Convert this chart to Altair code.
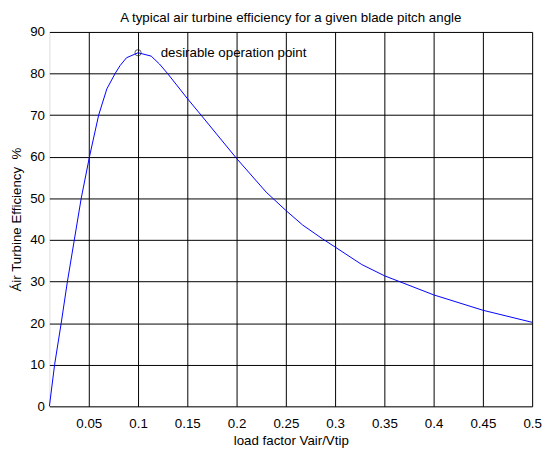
import altair as alt
import pandas as pd

# curve
load_factor = [0.01, 0.0153, 0.022, 0.0283, 0.0353, 0.0423, 0.0507, 0.06, 0.0683,
               0.0767, 0.0817, 0.0883, 0.1, 0.1133, 0.1217, 0.13, 0.15, 0.164,
               0.2, 0.23, 0.25, 0.267, 0.287, 0.3, 0.327, 0.35, 0.4, 0.45, 0.5]
efficiency = [0, 10, 20, 30, 40, 50, 60, 70, 76.3,
              80, 81.9, 83.8, 85, 84.2, 82.3, 80, 74, 70,
              59.6, 51.5, 47.1, 43.6, 40.3, 38.3, 34.1, 31.4, 26.8, 23.1, 20.2]

op_x = [0.1]
op_y = [85]
op_label = ["desirable operation point"]

x_ticks = [0.05, 0.1, 0.15, 0.2, 0.25, 0.3, 0.35, 0.4, 0.45, 0.5]
y_ticks = [0, 10, 20, 30, 40, 50, 60, 70, 80, 90]

curve = pd.DataFrame({"x": load_factor, "y": efficiency})
op = pd.DataFrame({"x": op_x, "y": op_y, "label": op_label})

FONT = "Liberation Sans"
FS = 13.5

xscale = alt.Scale(domain=[0.01, 0.5], nice=False, zero=False)
yscale = alt.Scale(domain=[0, 90], nice=False)

xaxis = alt.Axis(values=x_ticks, format="~g", title="load factor Vair/Vtip",
                 grid=True, gridColor="#000000", gridOpacity=1, gridWidth=1,
                 ticks=False, domain=False, labelPadding=10, titlePadding=4,
                 labelFont=FONT, labelFontSize=FS, labelColor="#000000",
                 titleFont=FONT, titleFontSize=FS, titleFontWeight="normal",
                 titleColor="#000000", labelFlush=False)
yaxis = alt.Axis(values=y_ticks, title="Áir Turbine Efficiency\u00a0 %",
                 grid=True, gridColor="#000000", gridOpacity=1, gridWidth=1,
                 ticks=False, domain=False, labelPadding=5, titlePadding=6,
                 labelFont=FONT, labelFontSize=FS, labelColor="#000000",
                 titleFont=FONT, titleFontSize=FS, titleFontWeight="normal",
                 titleColor="#000000", labelFlush=False)

line = alt.Chart(curve).mark_line(color="#0000ff", strokeWidth=1).encode(
    x=alt.X("x:Q", scale=xscale, axis=xaxis),
    y=alt.Y("y:Q", scale=yscale, axis=yaxis),
)

marker = alt.Chart(op).mark_point(shape="circle", size=40, filled=False,
                                  color="#1a1a1a", strokeWidth=1).encode(
    x=alt.X("x:Q", scale=xscale),
    y=alt.Y("y:Q", scale=yscale),
)

label = alt.Chart(op).mark_text(align="left", baseline="middle", dx=23,
                                font=FONT, fontSize=FS, color="#000000").encode(
    x=alt.X("x:Q", scale=xscale),
    y=alt.Y("y:Q", scale=yscale),
    text="label:N",
)

chart = alt.layer(line, marker, label).properties(
    width=490, height=380,
    title=alt.TitleParams("A typical air turbine efficiency for a given blade pitch angle",
                          font=FONT, fontSize=FS, fontWeight="normal",
                          color="#000000", anchor="middle", offset=1, frame="group"),
    autosize=alt.AutoSizeParams(type="none"),
    padding={"left": 42, "top": 21, "right": 10, "bottom": 41},
).configure_view(stroke="#000000", strokeWidth=1.5).configure(background="white")

chart.save("out.html", embed_options={"renderer": "svg", "actions": False})
